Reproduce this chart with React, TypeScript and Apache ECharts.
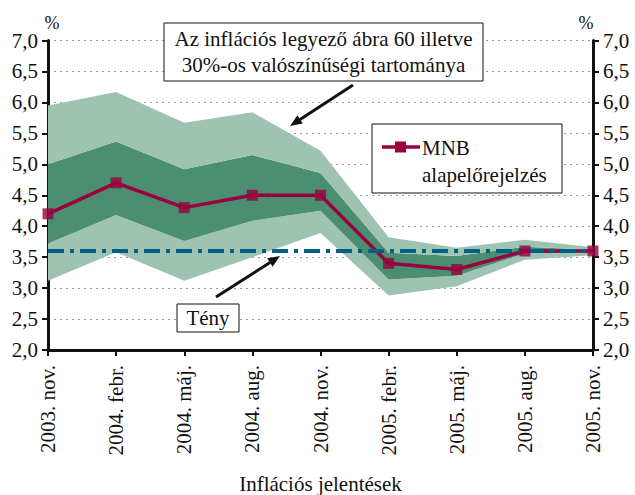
import React, { useEffect, useRef } from "react";
import * as echarts from "echarts";

const categories = [
  "2003. nov.", "2004. febr.", "2004. máj.", "2004. aug.", "2004. nov.",
  "2005. febr.", "2005. máj.", "2005. aug.", "2005. nov.",
];
const mnbForecast = [4.2, 4.7, 4.3, 4.5, 4.5, 3.4, 3.3, 3.6, 3.6];
const actual = [3.6, 3.6, 3.6, 3.6, 3.6, 3.6, 3.6, 3.6, 3.6];
const outerLow = [3.12, 3.58, 3.12, 3.5, 3.89, 2.88, 3.03, 3.46, 3.53];
const innerLow = [3.72, 4.18, 3.76, 4.09, 4.25, 3.14, 3.2, 3.56, 3.58];
const innerHigh = [5.0, 5.37, 4.92, 5.15, 4.86, 3.57, 3.52, 3.67, 3.62];
const outerHigh = [5.95, 6.17, 5.67, 5.84, 5.22, 3.82, 3.65, 3.78, 3.66];

const FONT = "Liberation Serif, serif";
const LIGHT = "#9ec4b1";
const DARK = "#4b8e72";
const RED = "#99003d";
const BLUE = "#005f86";
const FS = 21;

const fmt = (v: number) => v.toFixed(1).replace(".", ",");

export default function App() {
  const ref = useRef<HTMLDivElement>(null);
  useEffect(() => {
    if (!ref.current) return;
    const chart = echarts.init(ref.current, undefined, { renderer: "svg" });
    const diff = (a: number[], b: number[]) => a.map((v, i) => +(v - b[i]).toFixed(3));
    const yAxisCommon = {
      type: "value" as const,
      min: 2,
      max: 7,
      interval: 0.5,
      axisLine: { show: true, lineStyle: { color: "#111", width: 3 } },
      axisTick: { show: true, length: 6, lineStyle: { color: "#111", width: 2 } },
      axisLabel: {
        formatter: fmt,
        fontFamily: FONT,
        fontSize: FS,
        color: "#111",
        margin: 10,
      },
    };
    const bandBase = {
      type: "line" as const,
      stack: "band",
      symbol: "none",
      lineStyle: { width: 0, opacity: 0 },
      silent: true,
      z: 1,
    };
    const txt = (size: number) => ({ fontFamily: FONT, fontSize: size, fill: "#111" });
    chart.setOption({
      animation: false,
      grid: { left: 48, right: 42, top: 40.5, bottom: 145, containLabel: false, outerBoundsMode: "none" },
      xAxis: {
        type: "category",
        data: categories,
        boundaryGap: false,
        axisLine: { lineStyle: { color: "#111", width: 3 } },
        axisTick: { show: true, length: 6, lineStyle: { color: "#111", width: 2 } },
        axisLabel: {
          rotate: 90,
          fontFamily: FONT,
          fontSize: FS,
          color: "#111",
          margin: 15,
          interval: 0,
        },
        name: "Inflációs jelentések",
        nameLocation: "middle",
        nameGap: 123,
        nameTextStyle: { fontFamily: FONT, fontSize: FS, color: "#111" },
        splitLine: { show: false },
      },
      yAxis: [
        {
          ...yAxisCommon,
          position: "left",
          splitLine: {
            show: true,
            lineStyle: { color: "#999", type: [2, 4], width: 1 },
          },
        },
        {
          ...yAxisCommon,
          position: "right",
          splitLine: { show: false },
        },
      ],
      series: [
        { ...bandBase, name: "base", data: outerLow },
        { ...bandBase, name: "outerLowBand", data: diff(innerLow, outerLow), areaStyle: { color: LIGHT, opacity: 1 } },
        { ...bandBase, name: "innerBand", data: diff(innerHigh, innerLow), areaStyle: { color: DARK, opacity: 1 } },
        { ...bandBase, name: "outerHighBand", data: diff(outerHigh, innerHigh), areaStyle: { color: LIGHT, opacity: 1 } },
        {
          type: "line",
          name: "MNB alapelőrejelzés",
          data: mnbForecast,
          symbol: "none",
          lineStyle: { color: RED, width: 3.5 },
          z: 3,
        },
        {
          type: "line",
          name: "Tény",
          data: actual,
          symbol: "none",
          lineStyle: { color: BLUE, width: 4, type: [16, 6, 4, 6] },
          z: 4,
        },
        {
          type: "scatter",
          name: "MNB markers",
          data: mnbForecast,
          symbol: "rect",
          symbolSize: 11,
          itemStyle: { color: RED },
          z: 5,
        },
      ],
      graphic: [
        { type: "text", x: 52, y: 23, style: { ...txt(18), text: "%", align: "center", verticalAlign: "middle" } },
        { type: "text", x: 586, y: 23, style: { ...txt(18), text: "%", align: "center", verticalAlign: "middle" } },
        {
          type: "rect",
          shape: { x: 164, y: 23, width: 319, height: 58 },
          style: { fill: "#fff", stroke: "#111", lineWidth: 1 },
          z: 10,
        },
        {
          type: "text",
          x: 323.5, y: 39,
          style: { ...txt(FS), text: "Az inflációs legyező ábra 60 illetve", align: "center", verticalAlign: "middle" },
          z: 11,
        },
        {
          type: "text",
          x: 323.5, y: 64.5,
          style: { ...txt(FS), text: "30%-os valószínűségi tartománya", align: "center", verticalAlign: "middle" },
          z: 11,
        },
        { type: "line", shape: { x1: 353, y1: 85, x2: 300, y2: 119.4 }, style: { stroke: "#111", lineWidth: 3 }, z: 10 },
        { type: "polygon", shape: { points: [[290, 126], [302.8, 123.6], [297.4, 115.2]] }, style: { fill: "#111" }, z: 10 },
        {
          type: "rect",
          shape: { x: 372, y: 124, width: 190, height: 69 },
          style: { fill: "#fff", stroke: "#111", lineWidth: 1 },
          z: 10,
        },
        { type: "line", shape: { x1: 382, y1: 147, x2: 420, y2: 147 }, style: { stroke: RED, lineWidth: 3.5 }, z: 11 },
        { type: "rect", shape: { x: 395, y: 141.5, width: 11, height: 11 }, style: { fill: RED }, z: 11 },
        {
          type: "text", x: 422, y: 148,
          style: { ...txt(FS), text: "MNB", verticalAlign: "middle" },
          z: 11,
        },
        {
          type: "text", x: 422, y: 175,
          style: { ...txt(FS), text: "alapelőrejelzés", verticalAlign: "middle" },
          z: 11,
        },
        {
          type: "rect",
          shape: { x: 177, y: 304, width: 62, height: 28 },
          style: { fill: "#fff", stroke: "#111", lineWidth: 1 },
          z: 10,
        },
        {
          type: "text", x: 208, y: 318,
          style: { ...txt(FS), text: "Tény", align: "center", verticalAlign: "middle" },
          z: 11,
        },
        { type: "line", shape: { x1: 216, y1: 297, x2: 270, y2: 262.5 }, style: { stroke: "#111", lineWidth: 3 }, z: 10 },
        { type: "polygon", shape: { points: [[280, 256], [272.6, 266.7], [267.2, 258.3]] }, style: { fill: "#111" }, z: 10 },
      ],
    });
    return () => chart.dispose();
  }, []);
  return <div ref={ref} style={{ position: "absolute", left: 0, top: 0, width: 635, height: 495 }} />;
}
